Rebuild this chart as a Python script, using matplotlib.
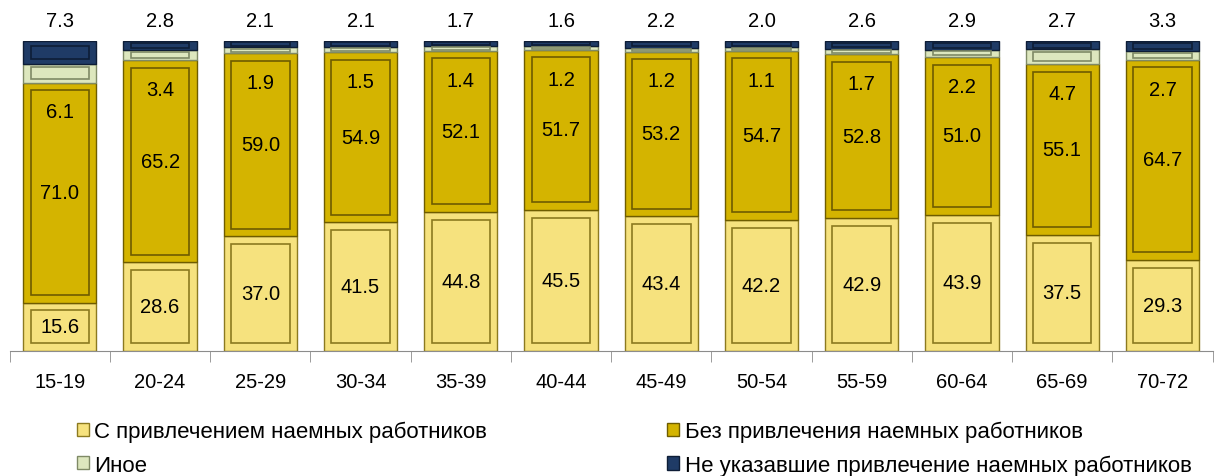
import matplotlib
matplotlib.use("Agg")
import matplotlib.pyplot as plt
from matplotlib.patches import Rectangle
import numpy as np

plt.rcParams['font.family'] = ['Liberation Sans', 'DejaVu Sans']

# Данные (проценты)
groups = ["15-19", "20-24", "25-29", "30-34", "35-39", "40-44",
          "45-49", "50-54", "55-59", "60-64", "65-69", "70-72"]
s_naem = [15.6, 28.6, 37.0, 41.5, 44.8, 45.5, 43.4, 42.2, 42.9, 43.9, 37.5, 29.3]
bez_naem = [71.0, 65.2, 59.0, 54.9, 52.1, 51.7, 53.2, 54.7, 52.8, 51.0, 55.1, 64.7]
inoe = [6.1, 3.4, 1.9, 1.5, 1.4, 1.2, 1.2, 1.1, 1.7, 2.2, 4.7, 2.7]
ne_ukaz = [7.3, 2.8, 2.1, 2.1, 1.7, 1.6, 2.2, 2.0, 2.6, 2.9, 2.7, 3.3]

series = [
    ("С привлечением наемных работников", s_naem, "#F6E27E", "#8C7A20"),
    ("Без привлечения наемных работников", bez_naem, "#D4B400", "#6E5C00"),
    ("Иное", inoe, "#DDE7BE", "#7F8A66"),
    ("Не указавшие привлечение наемных работников", ne_ukaz, "#1F3B66", "#0E1D36"),
]

fig = plt.figure(figsize=(12.15, 4.77), dpi=100)
ax = fig.add_axes([0.008, 0.262, 0.99, 0.65])

x = np.arange(len(groups))
w = 0.73
bottom = np.zeros(len(groups))
for name, vals, fc, ec in series:
    vals = np.array(vals)
    ax.bar(x, vals, w, bottom=bottom, color=fc, edgecolor=ec, linewidth=1.0, zorder=2)
    # внутренняя рамка для эффекта рельефа
    inset = np.minimum(vals * 0.2, 2.5)
    ax.bar(x, vals - 2 * inset, w * 0.8, bottom=bottom + inset, color=fc,
           edgecolor=ec, linewidth=1.2, zorder=3)
    bottom += vals

s = np.array(s_naem)
b = np.array(bez_naem)
fs = 14.5
for i in range(len(groups)):
    ax.text(x[i], s[i] / 2, f"{s[i]:.1f}", ha="center", va="center", fontsize=fs, zorder=5)
    ax.text(x[i], s[i] + b[i] / 2, f"{b[i]:.1f}", ha="center", va="center", fontsize=fs, zorder=5)
    ax.text(x[i], s[i] + b[i] - 9.5, f"{inoe[i]:.1f}", ha="center", va="center", fontsize=fs, zorder=5)
    ax.text(x[i], 106.5, f"{ne_ukaz[i]:.1f}", ha="center", va="center", fontsize=fs,
            clip_on=False)

ax.set_xlim(-0.5, len(groups) - 0.5)
ax.set_ylim(0, 100)
for sp in ["top", "right", "left"]:
    ax.spines[sp].set_visible(False)
ax.spines["bottom"].set_color("#8C8C8C")
ax.set_yticks([])
ax.set_xticks(x)
ax.set_xticklabels(groups, fontsize=fs)
ax.tick_params(axis="x", which="major", length=0, pad=15)
ax.set_xticks(np.arange(-0.5, len(groups), 1.0), minor=True)
ax.tick_params(axis="x", which="minor", length=8, color="#8C8C8C", direction="out")

def handle(fc, ec):
    return Rectangle((0, 0), 1, 1, facecolor=fc, edgecolor=ec, linewidth=1.0)

left = [series[0], series[2]]
right = [series[1], series[3]]
leg_kw = dict(frameon=False, prop={'size': 16},
              handlelength=0.55, handleheight=0.55,
              handletextpad=0.25, labelspacing=0.55, borderaxespad=0, borderpad=0)
fig.legend([handle(fc, ec) for _, _, fc, ec in left], [n for n, _, _, _ in left],
           loc="center left", bbox_to_anchor=(0.063, 0.058), **leg_kw)
fig.legend([handle(fc, ec) for _, _, fc, ec in right], [n for n, _, _, _ in right],
           loc="center left", bbox_to_anchor=(0.549, 0.058), **leg_kw)

fig.savefig("out.png", dpi=100)
